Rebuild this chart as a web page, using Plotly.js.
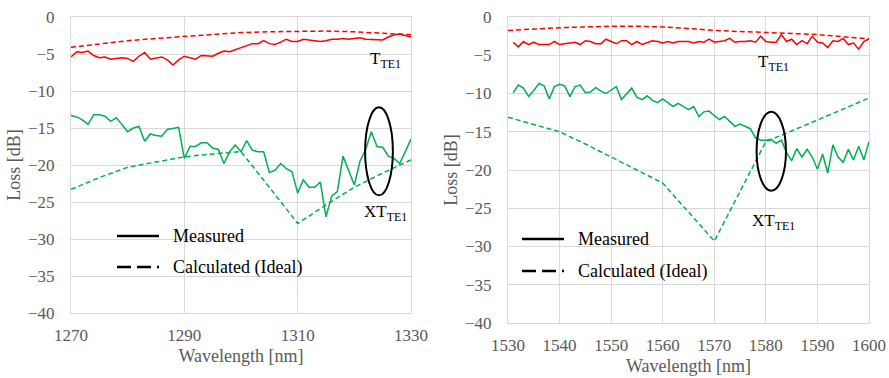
<!DOCTYPE html>
<html><head><meta charset="utf-8">
<script src="https://cdn.plot.ly/plotly-3.0.1.min.js"></script>
<style>html,body{margin:0;padding:0;background:#fff}#chart{width:889px;height:378px}</style>
</head><body><div id="chart"></div>
<script>
// ---- Left panel (O-band) ----
const leftX = [1270,1271,1272,1273,1274,1275,1276,1277,1278,1279,1280,1281,1282,1283,1284,1285,1286,1287,1288,1289,1290,1291,1292,1293,1294,1295,1296,1297,1298,1299,1300,1301,1302,1303,1304,1305,1306,1307,1308,1309,1310,1311,1312,1313,1314,1315,1316,1317,1318,1319,1320,1321,1322,1323,1324,1325,1326,1327,1328,1329,1330];
const leftT_meas = [-5.4,-4.7,-4.8,-4.6,-5.2,-5.5,-5.4,-5.7,-5.6,-5.5,-5.6,-6.0,-5.3,-4.8,-5.7,-5.5,-5.4,-5.8,-6.5,-5.8,-5.3,-5.5,-5.7,-5.2,-5.2,-5.3,-4.9,-4.6,-4.7,-4.4,-4.1,-3.8,-3.6,-3.6,-3.2,-3.6,-3.7,-3.4,-3.0,-3.3,-3.3,-3.0,-3.1,-3.2,-3.3,-3.2,-3.0,-3.0,-2.9,-3.0,-2.9,-2.8,-3.0,-3.0,-3.0,-3.1,-2.7,-2.4,-2.3,-2.5,-2.7];
const leftXT_meas = [-13.3,-13.5,-13.9,-14.5,-13.2,-13.2,-13.4,-14.1,-13.6,-14.5,-15.5,-15.0,-14.8,-16.8,-15.8,-16.0,-16.1,-15.2,-15.0,-14.9,-19.1,-17.5,-17.5,-17.0,-17.0,-17.7,-17.9,-19.8,-18.2,-17.3,-18.2,-16.7,-18.0,-18.2,-18.2,-21.0,-20.7,-19.8,-20.5,-20.9,-23.8,-22.0,-23.0,-23.0,-22.3,-27.0,-24.2,-23.6,-18.8,-20.7,-22.7,-19.5,-17.9,-15.5,-17.5,-17.6,-18.8,-19.1,-19.8,-18.2,-16.5];
const leftCalcX = [1270,1275,1280,1285,1290,1295,1300,1305,1310,1315,1320,1325,1330];
const leftT_calc = [-4.1,-3.6,-3.2,-2.9,-2.6,-2.3,-2.1,-2.0,-1.9,-1.9,-2.0,-2.2,-2.4];
const leftXT_calc = [-23.3,-21.7,-20.3,-19.6,-18.9,-18.5,-18.2,-23.0,-27.9,-25.4,-23.0,-21.1,-19.3];

// ---- Right panel (C-band) ----
const rightX = [1531,1532,1533,1534,1535,1536,1537,1538,1539,1540,1541,1542,1543,1544,1545,1546,1547,1548,1549,1550,1551,1552,1553,1554,1555,1556,1557,1558,1559,1560,1561,1562,1563,1564,1565,1566,1567,1568,1569,1570,1571,1572,1573,1574,1575,1576,1577,1578,1579,1580,1581,1582,1583,1584,1585,1586,1587,1588,1589,1590,1591,1592,1593,1594,1595,1596,1597,1598,1599,1600];
const rightT_meas = [-3.3,-3.9,-3.2,-3.6,-3.3,-3.6,-3.6,-3.6,-3.2,-3.6,-3.5,-3.4,-3.3,-3.6,-3.1,-3.2,-3.5,-3.5,-2.9,-3.2,-3.5,-3.1,-3.1,-3.6,-3.2,-3.6,-3.4,-3.1,-3.2,-3.4,-3.2,-3.4,-3.2,-3.2,-3.2,-3.4,-3.2,-3.3,-2.9,-3.3,-3.2,-3.1,-2.8,-3.3,-3.2,-3.2,-3.1,-3.3,-2.5,-3.2,-3.3,-3.3,-2.3,-3.2,-2.9,-3.6,-3.1,-3.5,-2.5,-3.3,-3.4,-4.0,-3.1,-3.2,-2.8,-3.6,-3.4,-4.2,-3.2,-2.85];
const rightXT_meas = [-9.9,-8.9,-9.3,-10.4,-9.6,-8.7,-9.0,-10.7,-9.1,-8.8,-9.0,-10.4,-9.1,-8.9,-9.9,-9.8,-9.2,-9.7,-10.0,-9.6,-9.1,-10.8,-10.0,-9.3,-10.5,-10.8,-10.3,-10.9,-11.2,-10.7,-11.2,-11.7,-11.3,-11.7,-12.1,-11.7,-13.0,-12.4,-12.3,-12.9,-13.4,-13.0,-13.7,-14.3,-14.0,-14.3,-14.6,-15.8,-16.1,-16.1,-16.0,-16.5,-16.1,-17.7,-18.8,-17.2,-18.3,-17.3,-18.3,-19.9,-17.9,-20.4,-16.7,-18.3,-19.0,-17.3,-18.7,-16.9,-18.7,-16.3];
const rightCalcX = [1530,1535,1540,1545,1550,1555,1560,1565,1570,1575,1580,1585,1590,1595,1600];
const rightT_calc = [-1.75,-1.55,-1.4,-1.3,-1.2,-1.2,-1.3,-1.5,-1.75,-1.9,-2.0,-2.15,-2.3,-2.55,-2.85];
const rightXT_calc = [-13.1,-14.0,-15.0,-16.6,-18.3,-20.0,-21.7,-25.5,-29.3,-22.8,-16.3,-14.9,-13.5,-12.0,-10.6];

// ---- Labels ----
const xTitle = 'Wavelength [nm]';
const yTitle = 'Loss [dB]';
const legendLabels = ['Measured', 'Calculated (Ideal)'];
const curveLabels = ['T<sub>TE1</sub>', 'XT<sub>TE1</sub>'];

const RED = '#ff0000', GREEN = '#00b050';
const SERIF = '"Liberation Serif", "Times New Roman", serif';
const GRAY = '#595959', GRID = '#d9d9d9';

function tr(x, y, color, dashed, xa, ya) {
  return {x: x, y: y, type: 'scatter', mode: 'lines', xaxis: xa, yaxis: ya,
    line: {color: color, width: 1.5, dash: dashed ? '5px,3px' : 'solid'},
    showlegend: false, hoverinfo: 'skip'};
}
const data = [
  tr(leftCalcX, leftT_calc, RED, true, 'x', 'y'),
  tr(leftCalcX, leftXT_calc, GREEN, true, 'x', 'y'),
  tr(leftX, leftT_meas, RED, false, 'x', 'y'),
  tr(leftX, leftXT_meas, GREEN, false, 'x', 'y'),
  tr(rightCalcX, rightT_calc, RED, true, 'x2', 'y2'),
  tr(rightCalcX, rightXT_calc, GREEN, true, 'x2', 'y2'),
  tr(rightX, rightT_meas, RED, false, 'x2', 'y2'),
  tr(rightX, rightXT_meas, GREEN, false, 'x2', 'y2')
];

const tickfont = {family: SERIF, size: 17, color: GRAY};
const titlefont = {family: SERIF, size: 18, color: GRAY};
function xax(domain, range, dtick, anchor) {
  return {domain: domain, range: range, dtick: dtick, tick0: range[0], anchor: anchor,
    showgrid: true, gridcolor: GRID, gridwidth: 1, showline: true, linecolor: GRID, linewidth: 1, mirror: true,
    zeroline: false, ticks: '', tickfont: tickfont, ticklabelstandoff: 7,
    title: {text: xTitle, font: titlefont, standoff: 4}, fixedrange: true};
}
function yax(domain, anchor) {
  return {domain: domain, range: [-40, 0], dtick: 5, anchor: anchor,
    showgrid: true, gridcolor: GRID, gridwidth: 1, showline: true, linecolor: GRID, linewidth: 1, mirror: true,
    zeroline: false, ticks: '', tickfont: tickfont, ticklabelstandoff: 12,
    title: {text: yTitle, font: titlefont, standoff: 2}, fixedrange: true};
}

const shapes = [];
const annotations = [];
// Ellipses marking crosstalk region
shapes.push({type: 'circle', xref: 'x', yref: 'y', x0: 1321.9, x1: 1326.8, y0: -24.1, y1: -12.2, line: {color: '#000', width: 2}});
shapes.push({type: 'circle', xref: 'x2', yref: 'y2', x0: 1578.2, x1: 1583.9, y0: -22.7, y1: -12.4, line: {color: '#000', width: 2}});

// Curve labels
const lblFont = {family: SERIF, size: 17, color: '#000'};
annotations.push({xref: 'x', yref: 'y', x: 1325.5, y: -5.8, text: curveLabels[0], showarrow: false, font: lblFont});
annotations.push({xref: 'x', yref: 'y', x: 1325.5, y: -26.5, text: curveLabels[1], showarrow: false, font: lblFont});
annotations.push({xref: 'x2', yref: 'y2', x: 1581.5, y: -6.0, text: curveLabels[0], showarrow: false, font: lblFont});
annotations.push({xref: 'x2', yref: 'y2', x: 1581.5, y: -26.8, text: curveLabels[1], showarrow: false, font: lblFont});

// Legend boxes (drawn in pixel-based paper coords)
const W = 889, H = 378, ML = 71, MR = 20, MT = 17, MB = 55;
const pw = W - ML - MR, ph = H - MT - MB;
function px(x) { return (x - ML) / pw; }
function py(y) { return (H - MB - y) / ph; }
const legFont = {family: SERIF, size: 18, color: '#000'};
function legend(x0, yS, yD) {
  shapes.push({type: 'line', xref: 'paper', yref: 'paper', x0: px(x0), x1: px(x0 + 42), y0: py(yS), y1: py(yS), line: {color: '#000', width: 2.5}});
  shapes.push({type: 'line', xref: 'paper', yref: 'paper', x0: px(x0), x1: px(x0 + 42), y0: py(yD), y1: py(yD), line: {color: '#000', width: 2.5, dash: '14px,6px'}});
  annotations.push({xref: 'paper', yref: 'paper', x: px(x0 + 54), y: py(yS), xanchor: 'left', yanchor: 'middle', text: legendLabels[0], showarrow: false, font: legFont});
  annotations.push({xref: 'paper', yref: 'paper', x: px(x0 + 54), y: py(yD), xanchor: 'left', yanchor: 'middle', text: legendLabels[1], showarrow: false, font: legFont});
}
legend(117, 236, 267);
legend(522, 239, 271);

const lx = [0, (411 - ML) / pw], rx = [(508 - ML) / pw, 1];
const ly = [(323 - 313) / ph, 1], ry = [0, 1];

const layout = {
  width: W, height: H,
  margin: {l: ML, r: MR, t: MT, b: MB, pad: 0},
  paper_bgcolor: '#fff', plot_bgcolor: '#fff',
  font: {family: SERIF},
  showlegend: false,
  xaxis: xax(lx, [1270, 1330], 20, 'y'),
  yaxis: yax(ly, 'x'),
  xaxis2: xax(rx, [1530, 1600], 10, 'y2'),
  yaxis2: yax(ry, 'x2'),
  shapes: shapes, annotations: annotations
};
Plotly.newPlot('chart', data, layout, {staticPlot: true, displayModeBar: false});
</script></body></html>
